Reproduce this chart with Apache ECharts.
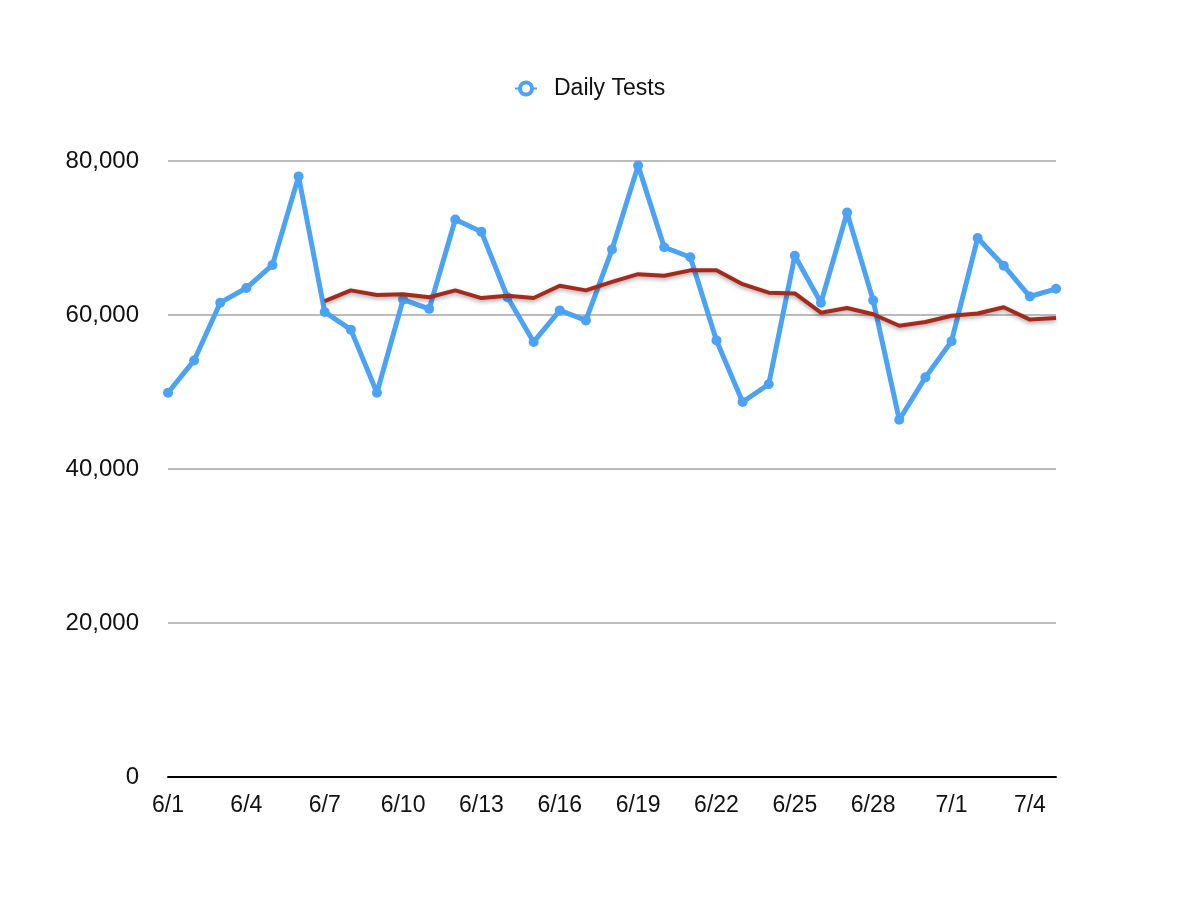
<!DOCTYPE html>
<html>
<head>
<meta charset="utf-8">
<script src="https://cdn.jsdelivr.net/npm/echarts@6/dist/echarts.min.js"></script>
<style>
html,body{margin:0;padding:0;background:#fff;}
#chart{width:1188px;height:918px;}
</style>
</head>
<body>
<div id="chart"></div>
<script>
const categories = ['6/1','6/2','6/3','6/4','6/5','6/6','6/7','6/8','6/9','6/10','6/11','6/12','6/13','6/14','6/15','6/16','6/17','6/18','6/19','6/20','6/21','6/22','6/23','6/24','6/25','6/26','6/27','6/28','6/29','6/30','7/1','7/2','7/3','7/4','7/5'];
const dailyTests = [49900,54100,61600,63500,66500,78000,60400,58100,49900,62000,60800,72400,70800,62300,56500,60600,59300,68500,79400,68800,67500,56700,48700,51000,67700,61600,73300,61900,46400,51900,56600,70000,66400,62400,63400];
const movingAvg = [null,null,null,null,null,null,61800,63200,62600,62700,62300,63200,62200,62500,62200,63800,63200,64300,65300,65100,65800,65800,64000,62900,62800,60300,60900,60100,58600,59100,59900,60200,61000,59400,59600];
const yTicks = [0,20000,40000,60000,80000];

const blue = '#4CA2F4';
const red = '#A52A1B';
const font = '"Liberation Sans", Arial, Helvetica, sans-serif';

const chart = echarts.init(document.getElementById('chart'), null, {renderer:'canvas'});
chart.setOption({
  backgroundColor:'#fff',
  animation:false,
  legend:{
    data:['Daily Tests'],
    top:72,
    left:509,
    itemWidth:22,
    itemHeight:15,
    itemGap:10,
    textStyle:{fontFamily:font,fontSize:23,color:'#111',padding:[0,0,0,12]},
    itemStyle:{color:'#fff',borderColor:blue,borderWidth:4}
  },
  grid:{left:168,right:132,top:161,bottom:141,containLabel:false},
  xAxis:{
    type:'category',
    data:categories,
    boundaryGap:false,
    axisLine:{show:true,lineStyle:{color:'#000',width:2}},
    axisTick:{show:false},
    axisLabel:{interval:2,fontFamily:font,fontSize:23,color:'#111',margin:17},
    splitLine:{show:false}
  },
  yAxis:{
    type:'value',
    min:yTicks[0],
    max:yTicks[yTicks.length-1],
    interval:20000,
    axisLine:{show:false},
    axisTick:{show:false},
    axisLabel:{fontFamily:font,fontSize:24,color:'#111',margin:29,
      formatter:v=>v.toLocaleString('en-US')},
    splitLine:{show:true,lineStyle:{color:'#bbbbbb',width:2}}
  },
  series:[
    {
      name:'Daily Tests',
      type:'line',
      data:dailyTests,
      symbol:'circle',
      symbolSize:10,
      showAllSymbol:true,
      itemStyle:{color:blue},
      lineStyle:{color:blue,width:5},
      z:2
    },
    {
      name:'Moving Average',
      type:'line',
      data:movingAvg,
      symbol:'none',
      connectNulls:false,
      lineStyle:{color:red,width:4,shadowColor:'rgba(0,0,0,0.35)',shadowBlur:4,shadowOffsetY:2},
      z:3
    }
  ]
});
</script>
</body>
</html>
